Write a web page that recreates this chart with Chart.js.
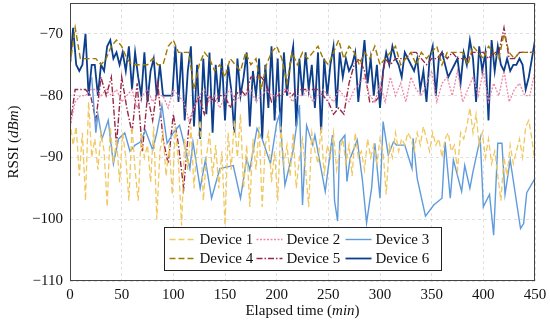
<!DOCTYPE html>
<html>
<head>
<meta charset="utf-8">
<script src="https://cdn.jsdelivr.net/npm/chart.js@4.4.1/dist/chart.umd.min.js"></script>
<style>
  html, body { margin: 0; padding: 0; background: #fff; }
  #wrap { width: 550px; height: 326px; }
</style>
</head>
<body>
<div id="wrap"><canvas id="chart" width="550" height="326"></canvas></div>
<script>
// x axis / y axis ticks
const xTicks = [0, 50, 100, 150, 200, 250, 300, 350, 400, 450];
const yTicks = [-110, -100, -90, -80, -70];

// sampling times (minutes)
const range = (a, b, s) => { const r = []; for (let t = a; t <= b; t += s) r.push(t); return r; };
const time3 = range(0, 450, 3);
const time5 = range(0, 450, 5);

const device1 = [
  -84, -88, -85, -93, -86, -97, -81, -90, -87, -92,
  -86, -89, -98, -85, -91, -87, -94, -86, -90, -97,
  -85, -92, -97, -86, -90, -88, -94, -85, -100, -89,
  -86, -93, -88, -96, -85, -91, -101, -87, -92, -85,
  -95, -88, -84, -97, -90, -86, -93, -88, -95, -89,
  -101, -86, -92, -84, -90, -83, -95, -88, -98, -87,
  -92, -85, -98, -88, -86, -94, -89, -97, -85, -91,
  -88, -93, -86, -95, -90, -87, -92, -98, -86, -89,
  -91, -85, -93, -88, -90, -86, -92, -89, -87, -91,
  -88, -93, -86, -90, -89, -92, -87, -90, -88, -91,
  -87, -89, -96, -88, -90, -86, -89, -87, -88, -86,
  -87, -89, -86, -88, -85, -87, -89, -86, -88, -87,
  -90, -87, -86, -89, -88, -92, -86, -87, -85, -82,
  -86, -83, -88, -86, -90, -87, -91, -89, -93, -97,
  -90, -93, -88, -91, -89, -87, -90, -85, -84, -87,
  -91
];

const device2 = [
  -85, -81, -80, -80, -79, -79, -80, -79, -80, -79,
  -81, -80, -79, -82, -80, -79, -81, -80, -80, -82,
  -79, -80, -81, -84, -82, -80, -79, -81, -80, -82,
  -80, -79, -81, -80, -80, -79, -81, -80, -79, -80,
  -80, -79, -79, -81, -80, -80, -79, -81, -80, -79,
  -80, -81, -79, -80, -81, -79, -78, -77, -80, -81,
  -78, -81, -77, -80, -78, -81, -77, -79, -80, -78,
  -76, -81, -78, -77, -80, -76, -81, -79, -77, -80,
  -76, -81, -78, -80, -76, -81, -79, -78, -80, -80,
  -76
];

const device3Time = [
  21, 25, 27, 31, 37, 42, 47, 53, 58, 63, 68, 73, 80, 84, 89, 94, 100, 106, 110, 116,
  119, 126, 131, 137, 145, 158, 165, 171, 174, 181, 186, 194, 200, 203, 208, 216, 222, 225, 229, 235,
  237, 247, 254, 256, 259, 261, 266, 268, 271, 278, 283, 287, 292, 295, 300, 303, 308, 313, 316, 324,
  331, 332, 336, 344, 352, 360, 363, 368, 371, 379, 382, 387, 390, 397, 400, 406, 410, 414, 418, 421,
  426, 436, 439, 442, 450
];
const device3 = [
  -77, -86, -83, -87, -84, -91, -87, -86, -89, -88, -87.5, -85.6, -88.8, -86, -81.6, -87.7, -86, -84.8, -87.5, -91.8,
  -87.5, -95, -90.4, -96.6, -91.8, -91.3, -96.6, -90.2, -92, -85.3, -87, -91, -84.5, -82.9, -94.5, -88.8, -81.5, -97.7, -84.8, -88,
  -86.4, -95.5, -86.4, -97, -100.3, -87.5, -86.4, -93.9, -90.2, -87.2, -93.7, -100.6, -94.8, -87.7, -96.6, -84.2, -89.6, -87.5, -88, -88,
  -91.8, -86.9, -93.4, -99.5, -97.7, -96.6, -87.5, -96.6, -90.4, -95.5, -91.3, -95, -92.3, -86.9, -98, -96, -102.6, -87.7, -87.7, -96,
  -90.4, -101.5, -100.7, -95.7, -93.4
];

const device4 = [
  -75, -69, -74, -74, -74, -74, -75, -74, -72, -71,
  -72, -74, -75, -75, -75, -75, -74, -75, -75, -72,
  -71, -73, -73, -73, -79, -75, -73, -74, -76, -75,
  -77, -74, -75, -76, -73, -75, -74, -79, -75, -73,
  -72, -74, -78, -73, -75, -73, -74, -73, -72, -74,
  -75, -73, -71, -74, -72, -73, -75, -73, -74, -72,
  -75, -74, -73, -72, -75, -74, -73, -75, -73, -74,
  -73, -72, -75, -73, -73, -73, -73, -75, -72, -73,
  -74, -72, -73, -74, -70, -73, -74, -73, -73, -73,
  -73
];

const device5 = [
  -85, -79, -79, -79, -80, -84, -77, -80, -77, -88,
  -77, -82, -86, -78, -89, -80, -84, -78, -87, -91,
  -83, -88, -95, -85, -82, -80, -83, -80, -81, -80,
  -80, -82, -80, -79, -80, -77, -77, -77, -78, -81,
  -80, -80, -79, -80, -79, -79, -79, -79, -79, -80,
  -81, -83, -82, -83, -78, -75, -74, -76, -81, -81,
  -80, -74, -75, -74, -74, -74, -73, -73, -74, -75,
  -74, -74, -73, -74, -73, -74, -74, -74, -73, -73,
  -73, -74, -73, -73, -69, -74, -74, -73, -73, -73,
  -73
];

const device6 = [
  -75, -69, -75, -76, -75, -70, -80, -75, -75, -80,
  -75, -76, -72, -71, -74, -73, -75, -73, -76, -72,
  -79, -73, -77, -80, -73, -81, -76, -74, -80, -75,
  -80, -80, -80, -80, -72, -81, -73, -84, -76, -72,
  -85, -75, -87, -74, -83, -73, -86, -75, -81, -74,
  -84, -75, -79, -86, -74, -80, -77, -73, -85, -76,
  -80, -74, -87, -75, -82, -72, -84, -74, -86, -73,
  -80, -75, -72, -85, -74, -80, -73, -79, -75, -82,
  -73, -86, -74, -80, -75, -72, -82, -73, -77, -74,
  -76, -75, -73, -81, -76, -71, -78, -74, -80, -75,
  -82, -76, -73, -75, -72, -74, -75, -77, -73, -74,
  -75, -76, -74, -79, -76, -81, -74, -72, -80, -74,
  -73, -75, -77, -76, -75, -74, -78, -73, -75, -71,
  -74, -81, -72, -76, -73, -84, -71, -76, -72, -75,
  -76, -74, -76, -75, -75, -74, -75, -79, -77, -74,
  -71
];

const labels = ['Device 1', 'Device 2', 'Device 3', 'Device 4', 'Device 5', 'Device 6'];

const pts = (ts, vs) => vs.map((v, i) => ({ x: ts[i], y: v }));

const SERIF = '"Liberation Serif", "DejaVu Serif", serif';

const styles = [
  { color: 'rgb(240,200,95)', dash: [6, 3], width: 1.3 },
  { color: 'rgb(236,135,165)', dash: [2, 1.5], width: 1.3 },
  { color: 'rgb(95,155,220)', dash: [], width: 1.4 },
  { color: 'rgb(160,122,0)', dash: [6, 3], width: 1.4 },
  { color: 'rgb(150,40,72)', dash: [6, 2, 1.5, 2], width: 1.4 },
  { color: 'rgb(12,62,140)', dash: [], width: 1.8 }
];

const series = [
  pts(time3, device1),
  pts(time5, device2),
  pts(device3Time, device3),
  pts(time5, device4),
  pts(time5, device5),
  pts(time3, device6)
];

const datasets = series.map((d, i) => ({
  label: labels[i],
  data: d,
  borderColor: styles[i].color,
  borderDash: styles[i].dash,
  borderWidth: styles[i].width,
  pointRadius: 0,
  tension: 0,
  fill: false
}));

const framePlugin = {
  id: 'frame',
  afterDraw(chart) {
    const { ctx, chartArea: a } = chart;
    ctx.save();
    ctx.strokeStyle = '#444';
    ctx.lineWidth = 1;
    ctx.strokeRect(a.left + 0.5, a.top + 0.5, a.right - a.left - 1, a.bottom - a.top - 1);

    // axis titles with italic units
    const drawMixed = (parts, cx, cy) => {
      let total = 0;
      parts.forEach(p => { ctx.font = p[1] + ' 15px ' + SERIF; total += ctx.measureText(p[0]).width; });
      let x = cx - total / 2;
      ctx.fillStyle = '#111';
      ctx.textBaseline = 'middle';
      ctx.textAlign = 'left';
      parts.forEach(p => {
        ctx.font = p[1] + ' 15px ' + SERIF;
        ctx.fillText(p[0], x, cy);
        x += ctx.measureText(p[0]).width;
      });
    };
    drawMixed([['Elapsed time (', 'normal'], ['min', 'italic'], [')', 'normal']], (a.left + a.right) / 2, 311);
    ctx.save();
    ctx.translate(14, (a.top + a.bottom) / 2);
    ctx.rotate(-Math.PI / 2);
    drawMixed([['RSSI (', 'normal'], ['dBm', 'italic'], [')', 'normal']], 0, 0);
    ctx.restore();

    // legend box
    const boxW = 277, boxH = 43;
    const bx = Math.round((a.left + a.right) / 2 - boxW / 2) + 0.5;
    const by = Math.round(a.bottom - 11 - boxH) + 0.5;
    ctx.fillStyle = '#fff';
    ctx.fillRect(bx, by, boxW, boxH);
    ctx.strokeStyle = '#222';
    ctx.lineWidth = 1;
    ctx.strokeRect(bx, by, boxW, boxH);
    const colX = [5, 92, 181];
    const rowY = [12, 31];
    chart.data.datasets.forEach((ds, i) => {
      const c = i % 3, r = Math.floor(i / 3);
      const x0 = bx + colX[c], y0 = by + rowY[r];
      ctx.beginPath();
      ctx.setLineDash(ds.borderDash);
      ctx.strokeStyle = ds.borderColor;
      ctx.lineWidth = ds.borderWidth;
      ctx.moveTo(x0, y0);
      ctx.lineTo(x0 + 26, y0);
      ctx.stroke();
      ctx.setLineDash([]);
      ctx.fillStyle = '#111';
      ctx.font = '15px ' + SERIF;
      ctx.textAlign = 'left';
      ctx.textBaseline = 'middle';
      ctx.fillText(ds.label, x0 + 30, y0 + 1);
    });
    ctx.restore();
  }
};

const minus = v => String(v).replace('-', '\u2212');

new Chart(document.getElementById('chart').getContext('2d'), {
  type: 'line',
  data: { datasets },
  options: {
    responsive: false,
    animation: false,
    layout: { padding: { left: 0, right: 15, top: 3, bottom: 0 } },
    plugins: { legend: { display: false }, tooltip: { enabled: false } },
    scales: {
      x: {
        type: 'linear',
        min: 0,
        max: 450,
        afterBuildTicks: s => { s.ticks = xTicks.map(v => ({ value: v })); },
        afterFit: s => { s.height = 45; s.paddingLeft = 0; s.paddingRight = 0; },
        grid: { color: 'rgba(0,0,0,0.12)', drawTicks: false },
        border: { display: false, dash: [3, 3] },
        ticks: { color: '#111', padding: 5, maxRotation: 0, font: { family: SERIF, size: 15 }, callback: v => minus(v) }
      },
      y: {
        min: -110,
        max: -65,
        afterBuildTicks: s => { s.ticks = yTicks.map(v => ({ value: v })); },
        afterFit: s => { s.width = 70; s.paddingTop = 0; s.paddingBottom = 0; },
        grid: { color: 'rgba(0,0,0,0.12)', drawTicks: false },
        border: { display: false, dash: [3, 3] },
        ticks: { color: '#111', padding: 7, font: { family: SERIF, size: 15 }, callback: v => minus(v) }
      }
    }
  },
  plugins: [framePlugin]
});
</script>
</body>
</html>
